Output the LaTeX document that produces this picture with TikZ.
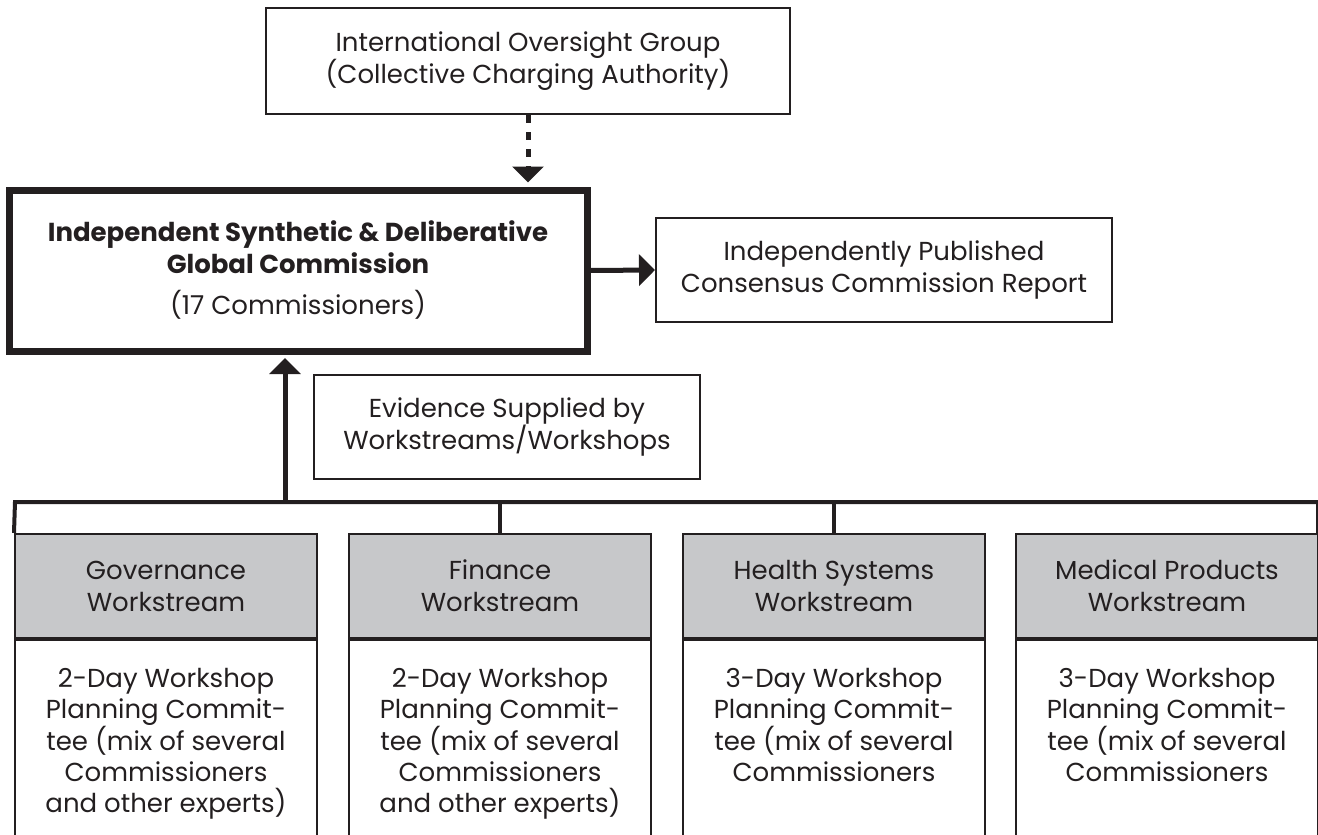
\documentclass[tikz,border=0pt]{standalone}
\usepackage{fontspec}
\setmainfont{Poppins}
\usetikzlibrary{arrows.meta}
\definecolor{ink}{RGB}{35,31,32}
\definecolor{headgray}{RGB}{199,200,202}

\begin{document}
\begin{tikzpicture}[x = 1pt, y = -1pt,
    every node/.style = {font = \fontsize{26}{32}\selectfont, text = ink, align = center},
    box/.style = {shape = rectangle, draw = ink, line width = 2pt, inner sep = 0pt},
    mainbox/.style = {box, line width = 7pt},
    headbox/.style = {box, fill = headgray, minimum width = 302pt, minimum height = 104pt},
    planbox/.style = {box, anchor = north, minimum width = 302pt, inner ysep = 28pt, text depth = 170pt,
        font = \fontsize{26}{31}\selectfont},
    bus/.style = {draw = ink, line width = 4pt},
    arrow/.style = {draw = ink, line width = 5pt, -{Triangle[length = 16pt, width = 31pt]}}]
    \useasboundingbox (0,0) rectangle (1318,835);

    \node[box, minimum width = 524pt, minimum height = 106pt] (oversight) at (528,61)
        {International Oversight Group\\(Collective Charging Authority)};
    \node[mainbox, minimum width = 578pt, minimum height = 161pt] (commission) at (298,270.5)
        {\textbf{Independent Synthetic \& Deliberative}\\\textbf{Global Commission}\\[9pt](17 Commissioners)};
    \node[box, minimum width = 456pt, minimum height = 104pt] (report) at (884,270)
        {Independently Published\\Consensus Commission Report};
    \node[box, minimum width = 386pt, minimum height = 104pt] (evidence) at (507,427)
        {Evidence Supplied by\\Workstreams/Workshops};

    \node[headbox] (govHead) at (166,586) {Governance\\Workstream};
    \node[headbox] (finHead) at (500,586) {Finance\\Workstream};
    \node[headbox] (hsHead) at (834,586) {Health Systems\\Workstream};
    \node[headbox] (mpHead) at (1167,586) {Medical Products\\Workstream};

    \node[planbox] (govPlan) at (govHead.south)
        {2-Day Workshop\\Planning Commit-\\tee (mix of several\\Commissioners\\and other experts)};
    \node[planbox] (finPlan) at (finHead.south)
        {2-Day Workshop\\Planning Commit-\\tee (mix of several\\Commissioners\\and other experts)};
    \node[planbox] (hsPlan) at (hsHead.south)
        {3-Day Workshop\\Planning Commit-\\tee (mix of several\\Commissioners};
    \node[planbox] (mpPlan) at (mpHead.south)
        {3-Day Workshop\\Planning Commit-\\tee (mix of several\\Commissioners};

    \coordinate (busLeft) at (15,502);
    \coordinate (busRight) at (1318,502);
    \coordinate (feed) at (285,502);

    \draw[bus] (govHead.north west) -- (busLeft) -- (busRight) -- (busRight |- mpHead.north);
    \draw[bus] (finHead.north) -- (finHead.north |- busLeft);
    \draw[bus] (hsHead.north) -- (hsHead.north |- busLeft);

    \draw[arrow, dash pattern = on 8pt off 9pt, shorten >= 4pt] (oversight.south) -- (oversight.south |- commission.north);
    \draw[arrow] (commission.east) -- (report.west);
    \draw[arrow, shorten >= 3.5pt] (feed) -- (feed |- commission.south);
\end{tikzpicture}
\end{document}
